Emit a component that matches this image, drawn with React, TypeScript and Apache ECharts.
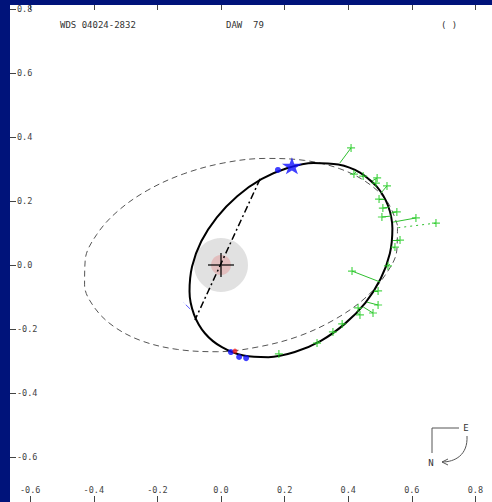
import React, { useEffect, useRef } from "react";
import * as echarts from "echarts";

// Old orbit (dashed)
const oldOrbitX = [0.555, 0.524, 0.462, 0.373, 0.262, 0.138, 0.009, -0.117, -0.23, -0.324, -0.391, -0.427, -0.429, -0.398, -0.336, -0.247, -0.136, -0.012, 0.117, 0.243, 0.356, 0.45, 0.516, 0.553];
const oldOrbitY = [0.124, 0.196, 0.256, 0.301, 0.327, 0.333, 0.319, 0.285, 0.234, 0.169, 0.095, 0.016, -0.062, -0.133, -0.193, -0.238, -0.264, -0.271, -0.256, -0.223, -0.171, -0.106, -0.032, 0.047];

// New orbit (solid)
const newOrbitX = [0.49, 0.437, 0.369, 0.291, 0.209, 0.127, 0.051, -0.013, -0.062, -0.091, -0.099, -0.085, -0.05, 0.003, 0.071, 0.149, 0.232, 0.314, 0.389, 0.454, 0.502, 0.531, 0.539, 0.525];
const newOrbitY = [0.245, 0.289, 0.314, 0.319, 0.303, 0.268, 0.215, 0.149, 0.074, -0.005, -0.083, -0.154, -0.214, -0.257, -0.283, -0.288, -0.272, -0.237, -0.184, -0.118, -0.043, 0.036, 0.114, 0.186];

// Line of nodes
const nodeLineX = [0.123, -0.082];
const nodeLineY = [0.269, -0.172];

// Measurements (green) and their predicted positions
const obsX = [0.409, 0.418, 0.447, 0.491, 0.487, 0.522, 0.497, 0.509, 0.553, 0.506, 0.613, 0.676, 0.563, 0.547, 0.525, 0.412, 0.494, 0.494, 0.478, 0.431, 0.437, 0.381, 0.352, 0.302, 0.182];
const obsY = [0.366, 0.284, 0.278, 0.272, 0.256, 0.247, 0.206, 0.178, 0.166, 0.15, 0.147, 0.131, 0.078, 0.056, -0.003, -0.019, -0.081, -0.125, -0.15, -0.134, -0.156, -0.184, -0.209, -0.244, -0.278];
const fitX = [0.374, 0.425, 0.443, 0.475, 0.484, 0.503, 0.513, 0.528, 0.535, 0.535, 0.541, 0.553, 0.541, 0.541, 0.531, 0.5, 0.481, 0.459, 0.447, 0.44, 0.428, 0.387, 0.358, 0.311, 0.186];
const fitY = [0.319, 0.291, 0.278, 0.2625, 0.253, 0.225, 0.206, 0.181, 0.1625, 0.153, 0.134, 0.116, 0.078, 0.053, 0.003, -0.053, -0.081, -0.116, -0.131, -0.134, -0.15, -0.1875, -0.209, -0.2375, -0.281];
const dottedResidual = [false, false, false, false, false, false, false, false, false, false, false, true, false, false, false, false, false, false, false, false, false, false, false, false, false];

// Blue / red markers
const blueDotX = [0.179, 0.031, 0.057, 0.079];
const blueDotY = [0.297, -0.272, -0.2875, -0.291];
const redDotX = [0.044];
const redDotY = [-0.269];
const starX = [0.223];
const starY = [0.31];
const openCircleX = [-0.119, -0.097];
const openCircleY = [-0.116, -0.1375];

const axisTicks = { min: -0.6, max: 0.8, interval: 0.2 };
const titleTexts = ["WDS 04024-2832", "DAW  79", "( )"];

const pairs = (xs: number[], ys: number[]) => xs.map((x, i) => [x, ys[i]]);

export default function App() {
  const ref = useRef<HTMLDivElement>(null);
  useEffect(() => {
    if (!ref.current) return;
    const chart = echarts.init(ref.current, undefined, { renderer: "svg" });
    const font = "DejaVu Sans Mono";
    const labelStyle = { color: "#444", fontFamily: font, fontSize: 8.5 };
    const oldPts = pairs(oldOrbitX, oldOrbitY);
    const newPts = pairs(newOrbitX, newOrbitY);
    const plusPath = "path://M4,0L4,8M0,4L8,4";
    const starPath = "path://M50,0L61,35L98,35L68,57L79,91L50,70L21,91L32,57L2,35L39,35Z";
    const hiddenLine = { show: false, onZero: false };
    chart.setOption({
      animation: false,
      grid: { left: 30.2, right: 16.6, top: 9, bottom: 45, containLabel: false },
      xAxis: [
        {
          type: "value", position: "bottom", offset: 45, ...axisTicks,
          axisLine: hiddenLine, splitLine: { show: false },
          axisTick: { show: true, inside: true, length: 6, lineStyle: { color: "#444" } },
          axisLabel: { inside: true, margin: 8, ...labelStyle, formatter: (v: number) => v.toFixed(1) },
        },
        {
          type: "value", position: "top", offset: 4, ...axisTicks,
          axisLine: hiddenLine, splitLine: { show: false },
          axisTick: { show: true, inside: true, length: 5, lineStyle: { color: "#444" } },
          axisLabel: { show: false },
        },
      ],
      yAxis: {
        type: "value", position: "left", offset: 20.2, ...axisTicks,
        axisLine: hiddenLine, splitLine: { show: false },
        axisTick: { show: true, inside: true, length: 6, lineStyle: { color: "#444" } },
        axisLabel: { inside: true, margin: 7, ...labelStyle, formatter: (v: number) => v.toFixed(1) },
      },
      series: [
        { type: "scatter", data: [[0, 0]], symbolSize: 54, itemStyle: { color: "#d9d9d9" }, z: 1, silent: true },
        { type: "scatter", data: [[0, 0]], symbolSize: 20, itemStyle: { color: "#e2b5b5" }, z: 2, silent: true },
        {
          type: "line", data: [...oldPts, oldPts[0]], smooth: 0.35, showSymbol: false, z: 3,
          lineStyle: { color: "#555", width: 1, type: [6, 4] },
        },
        {
          type: "line", data: [...newPts, newPts[0], newPts[1]], smooth: 0.35, showSymbol: false, z: 4,
          lineStyle: { color: "#000", width: 2 },
        },
        {
          type: "line", data: pairs(nodeLineX, nodeLineY), showSymbol: false, z: 4,
          lineStyle: { color: "#000", width: 1.5, type: [7, 3, 2, 3] },
        },
        {
          type: "scatter", data: [[0, 0]], symbol: "path://M13,0L13,24M0,12L26,12", symbolSize: [26, 24], z: 6,
          itemStyle: { color: "transparent", borderColor: "#000", borderWidth: 1.5 },
        },
        {
          type: "lines", coordinateSystem: "cartesian2d", z: 5,
          data: obsX.map((x, i) => ({
            coords: [[x, obsY[i]], [fitX[i], fitY[i]]],
            lineStyle: { type: dottedResidual[i] ? [2, 4] : "solid" },
          })),
          lineStyle: { color: "#2fbf2f", width: 1, opacity: 1 },
        },
        {
          type: "scatter", data: pairs(obsX, obsY), symbol: plusPath, symbolSize: 8, z: 6,
          itemStyle: { color: "transparent", borderColor: "#22cc22", borderWidth: 1.2 },
        },
        {
          type: "line", data: pairs(openCircleX, openCircleY), showSymbol: false, z: 6,
          lineStyle: { color: "#5a5aff", width: 1 },
        },
        {
          type: "scatter", data: [[openCircleX[0], openCircleY[0]]], symbol: "emptyCircle", symbolSize: 6, z: 7,
          itemStyle: { color: "#fff", borderColor: "#5a5aff", borderWidth: 1.2 },
        },
        {
          type: "scatter", data: pairs(starX, starY), symbol: starPath, symbolSize: [20, 17], z: 8,
          itemStyle: { color: "#1010ff" },
        },
        {
          type: "scatter", data: pairs(blueDotX, blueDotY), symbolSize: 6, z: 8,
          itemStyle: { color: "#1010ff" },
        },
        {
          type: "scatter", data: pairs(redDotX, redDotY), symbolSize: 5, z: 9,
          itemStyle: { color: "#ee2020" },
        },
      ],
      graphic: [
        { type: "rect", z: 100, shape: { x: 0, y: 0, width: 10, height: 502 }, style: { fill: "#00137a" } },
        { type: "rect", z: 100, shape: { x: 0, y: 0, width: 492, height: 5 }, style: { fill: "#00137a" } },
        { type: "text", x: 60, y: 25, style: { text: titleTexts[0], fill: "#333", font: `9px "${font}"`, verticalAlign: "middle" } },
        { type: "text", x: 226, y: 25, style: { text: titleTexts[1], fill: "#333", font: `9px "${font}"`, verticalAlign: "middle" } },
        { type: "text", x: 441, y: 25, style: { text: titleTexts[2], fill: "#333", font: `9px "${font}"`, verticalAlign: "middle" } },
        { type: "line", shape: { x1: 432, y1: 428, x2: 459, y2: 428 }, style: { stroke: "#555", lineWidth: 1 } },
        { type: "line", shape: { x1: 432, y1: 428, x2: 432, y2: 453 }, style: { stroke: "#555", lineWidth: 1 } },
        { type: "text", x: 466, y: 428, style: { text: "E", fill: "#333", font: `9px "${font}"`, align: "center", verticalAlign: "middle" } },
        { type: "text", x: 431, y: 463, style: { text: "N", fill: "#333", font: `9px "${font}"`, align: "center", verticalAlign: "middle" } },
        {
          type: "bezierCurve",
          shape: { x1: 467, y1: 436, cpx1: 468, cpy1: 455, cpx2: 455, cpy2: 462, x2: 442, y2: 462 },
          style: { stroke: "#555", lineWidth: 1, fill: "none" },
        },
        { type: "polyline", shape: { points: [[448, 459], [442, 462], [448, 465]] }, style: { stroke: "#555", lineWidth: 1, fill: "none" } },
      ],
    });
    return () => chart.dispose();
  }, []);
  return <div ref={ref} style={{ position: "fixed", left: 0, top: 0, width: 492, height: 502, background: "#fff" }} />;
}
